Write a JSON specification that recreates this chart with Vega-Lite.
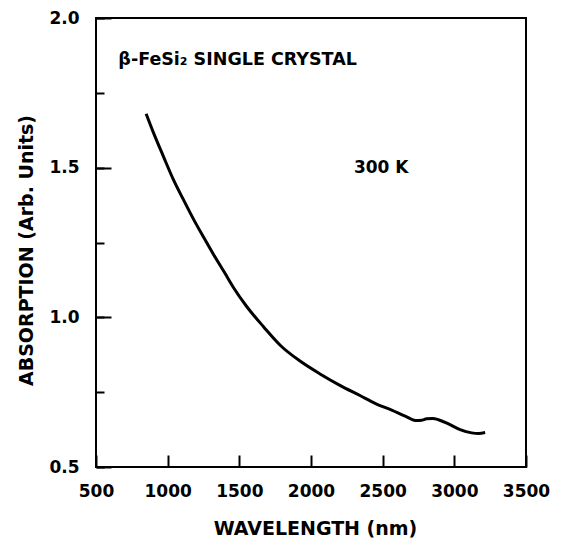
{
  "$schema": "https://vega.github.io/schema/vega-lite/v6.json",
  "width": 430,
  "height": 449,
  "autosize": "none",
  "padding": {"left": 96, "top": 18, "right": 37, "bottom": 73},
  "background": "white",
  "config": {
    "view": {"stroke": "black", "strokeWidth": 2},
    "font": "DejaVu Sans",
    "axis": {
      "grid": false,
      "domain": false,
      "labelFont": "DejaVu Sans",
      "labelFontWeight": "bold",
      "labelFontSize": 17,
      "labelColor": "black",
      "titleFont": "DejaVu Sans",
      "titleFontWeight": "bold",
      "titleFontSize": 19,
      "titleColor": "black",
      "tickColor": "black",
      "tickWidth": 2
    }
  },
  "datasets": {
    "curve": [
      {"wavelength": 850, "absorption": 1.680},
      {"wavelength": 900, "absorption": 1.618},
      {"wavelength": 970, "absorption": 1.538},
      {"wavelength": 1040, "absorption": 1.460},
      {"wavelength": 1110, "absorption": 1.393},
      {"wavelength": 1180, "absorption": 1.328},
      {"wavelength": 1250, "absorption": 1.268},
      {"wavelength": 1320, "absorption": 1.210},
      {"wavelength": 1400, "absorption": 1.147},
      {"wavelength": 1460, "absorption": 1.099},
      {"wavelength": 1550, "absorption": 1.037},
      {"wavelength": 1670, "absorption": 0.968},
      {"wavelength": 1787, "absorption": 0.906},
      {"wavelength": 1926, "absorption": 0.853},
      {"wavelength": 2066, "absorption": 0.810},
      {"wavelength": 2205, "absorption": 0.772},
      {"wavelength": 2345, "absorption": 0.738},
      {"wavelength": 2450, "absorption": 0.712},
      {"wavelength": 2563, "absorption": 0.690},
      {"wavelength": 2657, "absorption": 0.670},
      {"wavelength": 2737, "absorption": 0.655},
      {"wavelength": 2770, "absorption": 0.656},
      {"wavelength": 2807, "absorption": 0.661},
      {"wavelength": 2850, "absorption": 0.662},
      {"wavelength": 2889, "absorption": 0.658},
      {"wavelength": 2959, "absorption": 0.644},
      {"wavelength": 3040, "absorption": 0.625},
      {"wavelength": 3121, "absorption": 0.614},
      {"wavelength": 3170, "absorption": 0.612},
      {"wavelength": 3215, "absorption": 0.615}
    ],
    "title": [
      {"wavelength": 656, "absorption": 1.843, "label": "β-FeSi₂ SINGLE CRYSTAL"}
    ],
    "temp": [
      {"wavelength": 2490, "absorption": 1.5, "label": "300 K"}
    ]
  },
  "layer": [
    {
      "data": {"name": "curve"},
      "mark": {"type": "line", "color": "black", "strokeWidth": 3, "interpolate": "monotone"},
      "encoding": {
        "x": {
          "field": "wavelength", "type": "quantitative",
          "scale": {"domain": [500, 3500], "nice": false, "zero": false},
          "axis": {
            "title": "WAVELENGTH (nm)",
            "values": [500, 1000, 1500, 2000, 2500, 3000, 3500],
            "tickSize": -12,
            "labelPadding": 28,
            "labelBaseline": "top",
            "format": "d",
            "labelFlush": false,
            "labelOverlap": false,
            "titleX": 219,
            "titleY": 61,
            "titleBaseline": "middle"
          }
        },
        "y": {
          "field": "absorption", "type": "quantitative",
          "scale": {"domain": [0.5, 2.0], "nice": false, "zero": false},
          "axis": {
            "title": "ABSORPTION (Arb. Units)",
            "values": [0.5, 0.75, 1.0, 1.25, 1.5, 1.75, 2.0],
            "labelExpr": "(round(datum.value * 100) % 50 === 0) ? format(datum.value, '.1f') : ''",
            "tickSize": -8,
            "labelPadding": 25,
            "labelFlush": false,
            "labelOverlap": false,
            "grid": true,
            "gridColor": "black",
            "gridWidth": 2,
            "gridOpacity": 1,
            "gridDash": {"condition": {"test": "round(datum.value * 100) % 50 === 0", "value": [15, 1000]}, "value": [0, 1000]},
            "titleX": -70,
            "titleY": 232,
            "titleBaseline": "middle",
            "titleAngle": -90
          }
        }
      }
    },
    {
      "data": {"name": "title"},
      "mark": {"type": "text", "font": "DejaVu Sans", "fontWeight": "bold", "fontSize": 17.5, "color": "black", "align": "left", "baseline": "alphabetic"},
      "encoding": {
        "x": {"field": "wavelength", "type": "quantitative"},
        "y": {"field": "absorption", "type": "quantitative"},
        "text": {"field": "label"}
      }
    },
    {
      "data": {"name": "temp"},
      "mark": {"type": "text", "font": "DejaVu Sans", "fontWeight": "bold", "fontSize": 17, "color": "black", "align": "center", "baseline": "middle"},
      "encoding": {
        "x": {"field": "wavelength", "type": "quantitative"},
        "y": {"field": "absorption", "type": "quantitative"},
        "text": {"field": "label"}
      }
    }
  ]
}
